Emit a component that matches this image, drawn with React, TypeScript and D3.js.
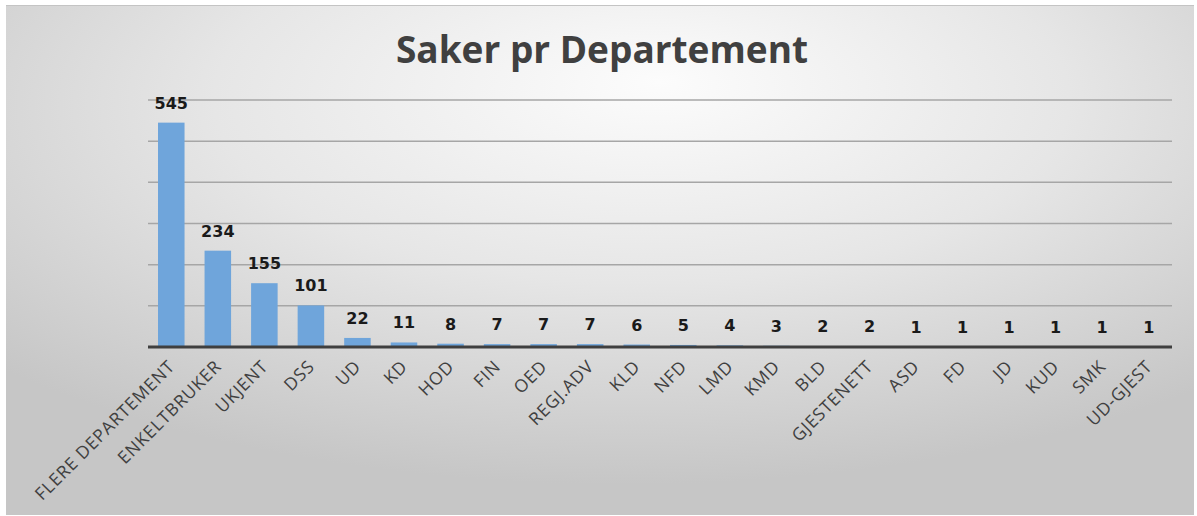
import React from "react";
import * as d3 from "d3";

const categories = [
  "FLERE DEPARTEMENT", "ENKELTBRUKER", "UKJENT", "DSS", "UD", "KD", "HOD", "FIN", "OED",
  "REGJ.ADV", "KLD", "NFD", "LMD", "KMD", "BLD", "GJESTENETT", "ASD", "FD", "JD", "KUD", "SMK", "UD-GJEST",
];
const values = [545, 234, 155, 101, 22, 11, 8, 7, 7, 7, 6, 5, 4, 3, 2, 2, 1, 1, 1, 1, 1, 1];
const yTicks = [0, 100, 200, 300, 400, 500, 600];
const title = "Saker pr Departement";

const W = 1197;
const H = 516;
const plot = { left: 148, right: 1172, top: 100, bottom: 347 };

export default function App() {
  const x = d3.scaleBand<string>().domain(categories).range([plot.left, plot.right]).paddingInner(0.43).paddingOuter(0.215);
  const y = d3.scaleLinear().domain([0, 600]).range([plot.bottom, plot.top]);
  const font = "'Open Sans', 'DejaVu Sans', sans-serif";
  return (
    <div style={{ position: "fixed", left: 0, top: 0, width: W, height: H, background: "#fff" }}>
      <svg width={W} height={H} style={{ display: "block" }}>
        <defs>
          <radialGradient id="bg" cx="52%" cy="22%" r="72%" fx="55%" fy="15%">
            <stop offset="0%" stopColor="#fcfcfc" />
            <stop offset="50%" stopColor="#e6e6e6" />
            <stop offset="100%" stopColor="#c6c6c6" />
          </radialGradient>
        </defs>
        <rect x={6} y={5} width={1188} height={510} fill="url(#bg)" />
        <line x1={6} x2={1194} y1={5.5} y2={5.5} stroke="#c4c4c4" strokeWidth={1} />
        <text x={602} y={63} textAnchor="middle" fontFamily={font} fontWeight={700} fontSize={37} fill="#404040">
          {title}
        </text>
        {yTicks.filter((t) => t > 0).map((t) => (
          <line key={t} x1={plot.left} x2={plot.right} y1={y(t)} y2={y(t)} stroke="#a6a6a6" strokeWidth={1.5} />
        ))}
        {categories.map((c, i) => (
          <rect key={c} x={x(c)!} width={x.bandwidth()} y={y(values[i])} height={plot.bottom - y(values[i])} fill="#6fa5db" />
        ))}
        <line x1={plot.left} x2={plot.right} y1={plot.bottom} y2={plot.bottom} stroke="#3f3f3f" strokeWidth={3} />
        {categories.map((c, i) => (
          <text key={c} x={x(c)! + x.bandwidth() / 2} y={y(values[i]) - 14} textAnchor="middle" fontFamily="'DejaVu Sans', Verdana, sans-serif" fontWeight={700} fontSize={16} fill="#1a1a1a">
            {values[i]}
          </text>
        ))}
        {categories.map((c) => (
          <text
            key={c}
            transform={`translate(${x(c)! + x.bandwidth() / 2 - 4},${plot.bottom + 12}) rotate(-45)`}
            textAnchor="end"
            dy="0.7em"
            fontFamily={font}
            fontSize={17.5}
            letterSpacing={0.8}
            fill="#404040"
          >
            {c}
          </text>
        ))}
      </svg>
    </div>
  );
}
